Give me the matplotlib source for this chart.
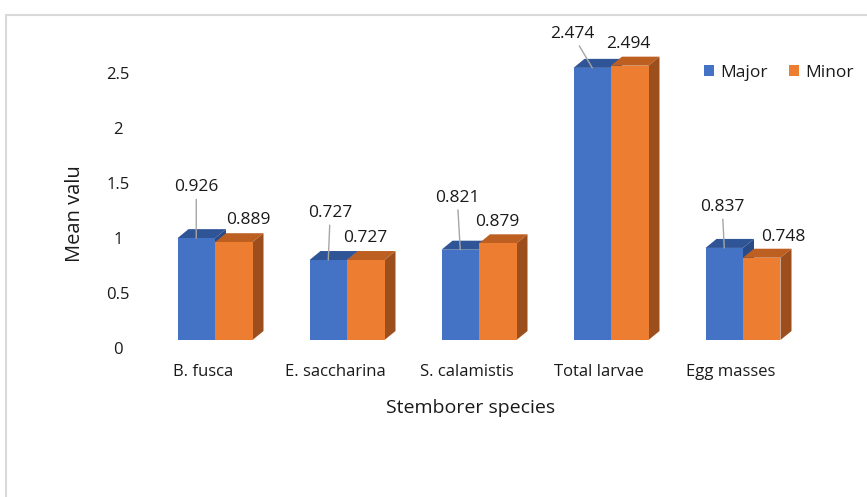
import matplotlib.pyplot as plt
from matplotlib.patches import Polygon, Rectangle
import matplotlib.transforms as mtransforms

categories = ["B. fusca", "E. saccharina", "S. calamistis", "Total larvae", "Egg masses"]
major = [0.926, 0.727, 0.821, 2.474, 0.837]
minor = [0.889, 0.727, 0.879, 2.494, 0.748]
yticks = [0, 0.5, 1, 1.5, 2, 2.5]
ytick_labels = ["0", "0.5", "1", "1.5", "2", "2.5"]

BLUE = ("#4472C4", "#2F5597", "#2A4C86")
ORANGE = ("#ED7D31", "#BE5F22", "#9C4E1C")
FONT = "Open Sans"
TXT = "#1a1a1a"

# pixel scale of the chart: 132 px per category, 110 px per unit
PX_X, PX_Y = 132.0, 110.0
bar_w = 37.5 / PX_X
depth_x, depth_y = 11 / PX_X, 9 / PX_Y

# label nudges in pixels (layout only)
major_off = [(0, 51), (2, 47), (-3, 52), (-20, 34), (-2, 41)]
minor_off = [(15, 22), (0, 22), (0, 21), (-1, 22), (22, 21)]


def bar3d(ax, x, h, colors):
    front, top, side = colors
    x0, x1 = x - bar_w / 2, x + bar_w / 2
    ax.add_patch(Polygon([(x0, h), (x1, h), (x1 + depth_x, h + depth_y), (x0 + depth_x, h + depth_y)],
                         closed=True, facecolor=top, edgecolor="none"))
    ax.add_patch(Polygon([(x1, 0), (x1 + depth_x, depth_y), (x1 + depth_x, h + depth_y), (x1, h)],
                         closed=True, facecolor=side, edgecolor="none"))
    ax.add_patch(Rectangle((x0, 0), bar_w, h, facecolor=front, edgecolor="none"))


def main():
    fig = plt.figure(figsize=(8.67, 4.97), dpi=100)
    W, H = 867, 497
    left, right, bottom, top = 140, 840, 340, 40
    ax = fig.add_axes([left / W, 1 - bottom / H, (right - left) / W, (bottom - top) / H])
    ax.set_xlim((left - 215) / PX_X, (right - 215) / PX_X)
    ax.set_ylim(0, (bottom - top) / PX_Y)

    # chart border
    fig.patches.append(Rectangle((6 / W, -0.1), 1.2, 1.1 - 15 / H, transform=fig.transFigure,
                                 fill=False, edgecolor="#D9D9D9", linewidth=1.5))

    for i in range(len(categories)):
        xb = i - bar_w / 2
        xo = i + bar_w / 2
        bar3d(ax, xb, major[i], BLUE)
        bar3d(ax, xo, minor[i], ORANGE)

        ax.annotate(f"{major[i]:.3f}", xy=(xb, major[i]), xytext=major_off[i],
                    textcoords="offset pixels", ha="center", va="center",
                    fontsize=12.5, family=FONT, color=TXT,
                    arrowprops=dict(arrowstyle="-", color="#A6A6A6", lw=1,
                                    shrinkA=1, shrinkB=0))
        ax.annotate(f"{minor[i]:.3f}", xy=(xo, minor[i]), xytext=minor_off[i],
                    textcoords="offset pixels", ha="center", va="center",
                    fontsize=12.5, family=FONT, color=TXT)

    for s in ax.spines.values():
        s.set_visible(False)
    ax.set_facecolor("none")

    ax.set_yticks(yticks)
    ax.set_yticklabels(ytick_labels, family=FONT, fontsize=12, color=TXT)
    ax.tick_params(axis="y", length=0, pad=22 * 0.72)
    dn = mtransforms.ScaledTranslation(0, -8 / 100, fig.dpi_scale_trans)
    for lbl in ax.get_yticklabels():
        lbl.set_horizontalalignment("center")
        lbl.set_transform(lbl.get_transform() + dn)

    ax.set_xticks(range(len(categories)))
    ax.set_xticklabels(categories, family=FONT, fontsize=12, color=TXT)
    ax.tick_params(axis="x", length=0, pad=24 * 0.72)
    sh = mtransforms.ScaledTranslation(-12 / 100, 0, fig.dpi_scale_trans)
    for lbl in ax.get_xticklabels():
        lbl.set_transform(lbl.get_transform() + sh)

    fig.text(471 / W, 1 - 408 / H, "Stemborer species", ha="center", va="center",
             family=FONT, fontsize=14, color=TXT)
    fig.text(75 / W, 1 - 214 / H, "Mean valu", ha="center", va="center", rotation=90,
             family=FONT, fontsize=14.5, color=TXT)

    handles = [Rectangle((0, 0), 1, 1, facecolor=BLUE[0]), Rectangle((0, 0), 1, 1, facecolor=ORANGE[0])]
    fig.legend(handles, ["Major", "Minor"], loc="center left", bbox_to_anchor=(704 / W, 1 - 73 / H),
               ncol=2, frameon=False, prop={"family": FONT, "size": 12.5},
               handlelength=0.6, handleheight=0.6, handletextpad=0.35, columnspacing=1.2,
               labelcolor=TXT, borderaxespad=0, borderpad=0)

    fig.savefig("out.png", dpi=100)


if __name__ == "__main__":
    main()
